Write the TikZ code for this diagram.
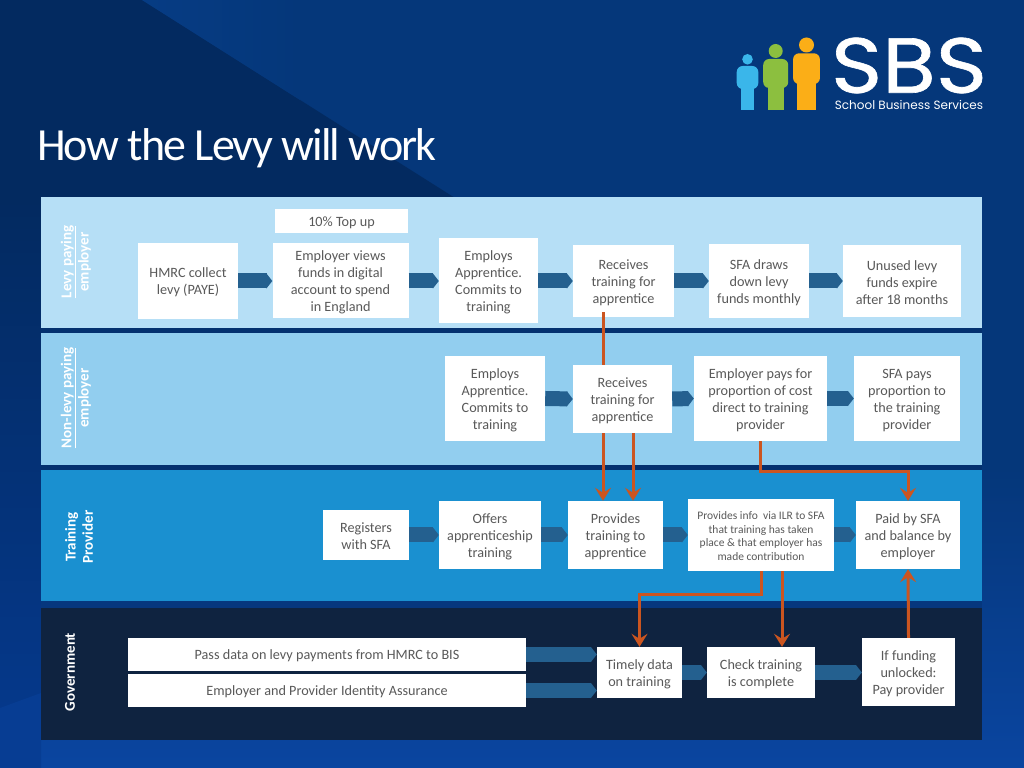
\documentclass[tikz,border=0pt]{standalone}
\usepackage{fontspec}
\setmainfont{Carlito}
\newfontfamily\logofont[FakeBold=0.8,FakeStretch=1.12]{Poppins}
\newfontfamily\logosubfont{Poppins}
\usetikzlibrary{arrows.meta}
\definecolor{deepblue}{HTML}{032A60}
\definecolor{midblue}{HTML}{05377A}
\definecolor{faceblue}{HTML}{063C84}
\definecolor{lowblue}{HTML}{0A45A0}
\definecolor{edgeblue}{HTML}{05388A}
\definecolor{stripblue}{HTML}{04316F}
\definecolor{bandone}{HTML}{B6DFF6}
\definecolor{bandtwo}{HTML}{92CEEF}
\definecolor{bandthree}{HTML}{1A90D0}
\definecolor{bandfour}{HTML}{0F2340}
\definecolor{flowblue}{HTML}{24608F}
\definecolor{linkorange}{HTML}{CB5520}
\definecolor{boxtext}{HTML}{595959}
\tikzset{
  boxbase/.style={fill=white,text=boxtext,align=center,inner sep=0pt,font=\fontsize{14.2bp}{17bp}\selectfont},
  stepbox/.style={boxbase,execute at begin node={\rule{0pt}{\dimexpr 17bp*(#1-1)+13bp\relax}}},
  infobox/.style={boxbase,font=\fontsize{11.5bp}{13.7bp}\selectfont,execute at begin node={\rule{0pt}{51bp}}},
  flow/.style={draw=flowblue,line width=15bp,-{Triangle[length=6bp,width=15bp]}},
  link/.style={draw=linkorange,line width=3bp,line join=miter,-{Stealth[length=13bp,width=16bp,inset=5bp]}},
  linkplain/.style={draw=linkorange,line width=3bp},
  sidelabel/.style={text=white,align=center,rotate=90,font=\fontsize{15bp}{17.2bp}\selectfont\bfseries},
}
\begin{document}
\begin{tikzpicture}[x=1bp,y=1bp,line join=bevel]
\useasboundingbox (0,0) rectangle (1024,768);
%% background
\fill[midblue] (0,300) rectangle (1024,768);
\shade[top color=midblue,bottom color=lowblue] (0,0) rectangle (1024,300);
\shade[top color=deepblue,bottom color=edgeblue] (0,60) rectangle (41,570);
\fill[edgeblue!60!lowblue] (0,0) -- (0,60) -- (41,75) -- (41,0) -- cycle;
\fill[deepblue] (0,768) -- (142,768) -- (455,570) -- (0,570) -- cycle;
\shade[left color=faceblue,right color=midblue] (142,768) -- (300,768) -- (300,668) -- cycle;
%% bands
\fill[bandone] (41,440) rectangle (982,571);
\fill[stripblue] (41,435) rectangle (982,440);
\fill[bandtwo] (41,303) rectangle (982,435);
\fill[stripblue] (41,298) rectangle (982,303);
\fill[bandthree] (41,167) rectangle (982,298);
\fill[stripblue!70!lowblue] (41,160) rectangle (982,167);
\fill[bandfour] (41,28) rectangle (982,160);
%% title
\node (title) at (237bp,619.5bp) [text=white,font=\fontsize{46bp}{50bp}\selectfont,inner sep=0pt] {\addfontfeature{LetterSpace=-4.1}How the Levy will work};
%% logo
\foreach \cx/\hy/\hr/\ht/\hw/\lw/\by/\col in {747.5/708.7/5.3/702/10.8/6.3/679/3AB6EA,775.7/717/7/709/12.5/8.2/680/8CBF3F,806.5/723/7.5/714.7/13.4/9.2/684/FBAE17}{
  \definecolor{figcol}{HTML}{\col}
  \fill[figcol] (\cx,\hy) circle (\hr);
  \fill[figcol,rounded corners=6bp] (\cx-\hw,\by) -- (\cx-\hw,\ht) -- (\cx+\hw,\ht) -- (\cx+\hw,\by) -- cycle;
  \fill[figcol] (\cx-\lw,658) rectangle (\cx+\lw,\by+4);
}
\node (logoname) at (909bp,702.5bp) [text=white,inner sep=0pt,font=\logofont\fontsize{78bp}{80bp}\selectfont] {SBS};
\node (logosub) at (909bp,662.5bp) [text=white,inner sep=0pt,font=\logosubfont\fontsize{12bp}{14bp}\selectfont] {School Business Services};
%% side labels
\node (sideone) at (76bp,506bp) [sidelabel] {\underline{Levy paying}\\employer};
\node (sidetwo) at (76bp,370bp) [sidelabel] {\underline{Non-levy paying}\\employer};
\node (sidethree) at (79bp,231bp) [sidelabel] {Training\\Provider};
\node (sidefour) at (70bp,96bp) [sidelabel] {Government};
%% levy paying row
\node (topup) at (341.5bp,547bp) [stepbox=1,minimum width=133bp,minimum height=24bp] {10\% Top up};
\node (hmrc) at (188bp,487bp) [stepbox=2,minimum width=100bp,minimum height=76bp] {HMRC collect\\levy (PAYE)};
\node (views) at (340.5bp,487.5bp) [stepbox=4,minimum width=136bp,minimum height=75bp] {Employer views\\funds in digital\\account to spend\\in England};
\node (employsone) at (488.5bp,487.5bp) [stepbox=4,minimum width=99bp,minimum height=85bp] {Employs\\Apprentice.\\Commits to\\training};
\node (receivesone) at (623.5bp,487bp) [stepbox=3,minimum width=101bp,minimum height=72bp] {Receives\\training for\\apprentice};
\node (draws) at (759bp,487bp) [stepbox=3,minimum width=100bp,minimum height=74bp] {SFA draws\\down levy\\funds monthly};
\node (unused) at (902bp,487bp) [stepbox=3,minimum width=118bp,minimum height=72bp] {Unused levy\\funds expire\\after 18 months};
%% non-levy row
\node (employstwo) at (495bp,369.5bp) [stepbox=4,minimum width=100bp,minimum height=85bp] {Employs\\Apprentice.\\Commits to\\training};
\node (receivestwo) at (622.5bp,369bp) [stepbox=3,minimum width=99bp,minimum height=68bp] {Receives\\training for\\apprentice};
\node (pays) at (760.5bp,369.5bp) [stepbox=4,minimum width=133bp,minimum height=85bp] {Employer pays for\\proportion of cost\\direct to training\\provider};
\node (sfapays) at (907bp,369.5bp) [stepbox=4,minimum width=106bp,minimum height=85bp] {SFA pays\\proportion to\\the training\\provider};
%% training provider row
\node (registers) at (366bp,233bp) [stepbox=2,minimum width=86bp,minimum height=50bp] {Registers\\with SFA};
\node (offers) at (490bp,233bp) [stepbox=3,minimum width=102bp,minimum height=68bp] {Offers\\apprenticeship\\training};
\node (provides) at (615.5bp,233bp) [stepbox=3,minimum width=95bp,minimum height=68bp] {Provides\\training to\\apprentice};
\node (info) at (761bp,233bp) [infobox,minimum width=146bp,minimum height=72bp] {Provides info\ \ via ILR to SFA\\that training has taken\\place \& that employer has\\made contribution};
\node (paid) at (908bp,233bp) [stepbox=3,minimum width=104bp,minimum height=68bp] {Paid by SFA\\and balance by\\employer};
%% government row
\node (pass) at (327bp,113.5bp) [stepbox=1,minimum width=398bp,minimum height=33bp] {Pass data on levy payments from HMRC to BIS};
\node (identity) at (327bp,77.5bp) [stepbox=1,minimum width=398bp,minimum height=33bp] {Employer and Provider Identity Assurance};
\node (timely) at (639.5bp,95.5bp) [stepbox=2,minimum width=85bp,minimum height=51bp] {Timely data\\on training};
\node (check) at (761bp,95.5bp) [stepbox=2,minimum width=108bp,minimum height=51bp] {Check training\\is complete};
\node (funding) at (908.5bp,96bp) [stepbox=3,minimum width=93bp,minimum height=68bp] {If funding\\unlocked:\\Pay provider};
%% flow arrows
\draw[flow] (hmrc.east) -- (hmrc.east -| views.west);
\draw[flow] (hmrc.east -| views.east) -- (hmrc.east -| employsone.west);
\draw[flow] (hmrc.east -| employsone.east) -- (hmrc.east -| receivesone.west);
\draw[flow] (receivesone.east) -- (draws.west);
\draw[flow] (draws.east) -- (unused.west);
\draw[flow] (employstwo.east) -- (receivestwo.west);
\draw[flow] (receivestwo.east) -- (pays.west);
\draw[flow] (pays.east) -- (sfapays.west);
\draw[flow] (registers.east) -- (offers.west);
\draw[flow] (offers.east) -- (provides.west);
\draw[flow] (provides.east) -- (info.west);
\draw[flow] (info.east) -- (paid.west);
\draw[flow] (pass.east) -- (pass.east -| timely.west);
\draw[flow] (identity.east) -- (identity.east -| timely.west);
\draw[flow] (timely.east) -- (check.west);
\draw[flow] (check.east) -- (check.east -| funding.west);
%% orange links
\draw[linkplain] ([xshift=-20.5bp,yshift=5bp]receivesone.south) -- ([xshift=-19.5bp]receivestwo.north);
\draw[link] ([xshift=-19.5bp]receivestwo.south) -- ([xshift=-12.5bp]provides.north);
\draw[link] ([xshift=10.5bp]receivestwo.south) -- ([xshift=17.5bp]provides.north);
\draw[link] (pays.south) -- ++(0,-30.5) -| (paid.north);
\draw[link] (info.south) -- ++(0,-23) -| (timely.north);
\draw[link] ([xshift=21bp]info.south) -- ([xshift=21bp]check.north);
\draw[link] (funding.north) -- (paid.south);
\end{tikzpicture}
\end{document}
